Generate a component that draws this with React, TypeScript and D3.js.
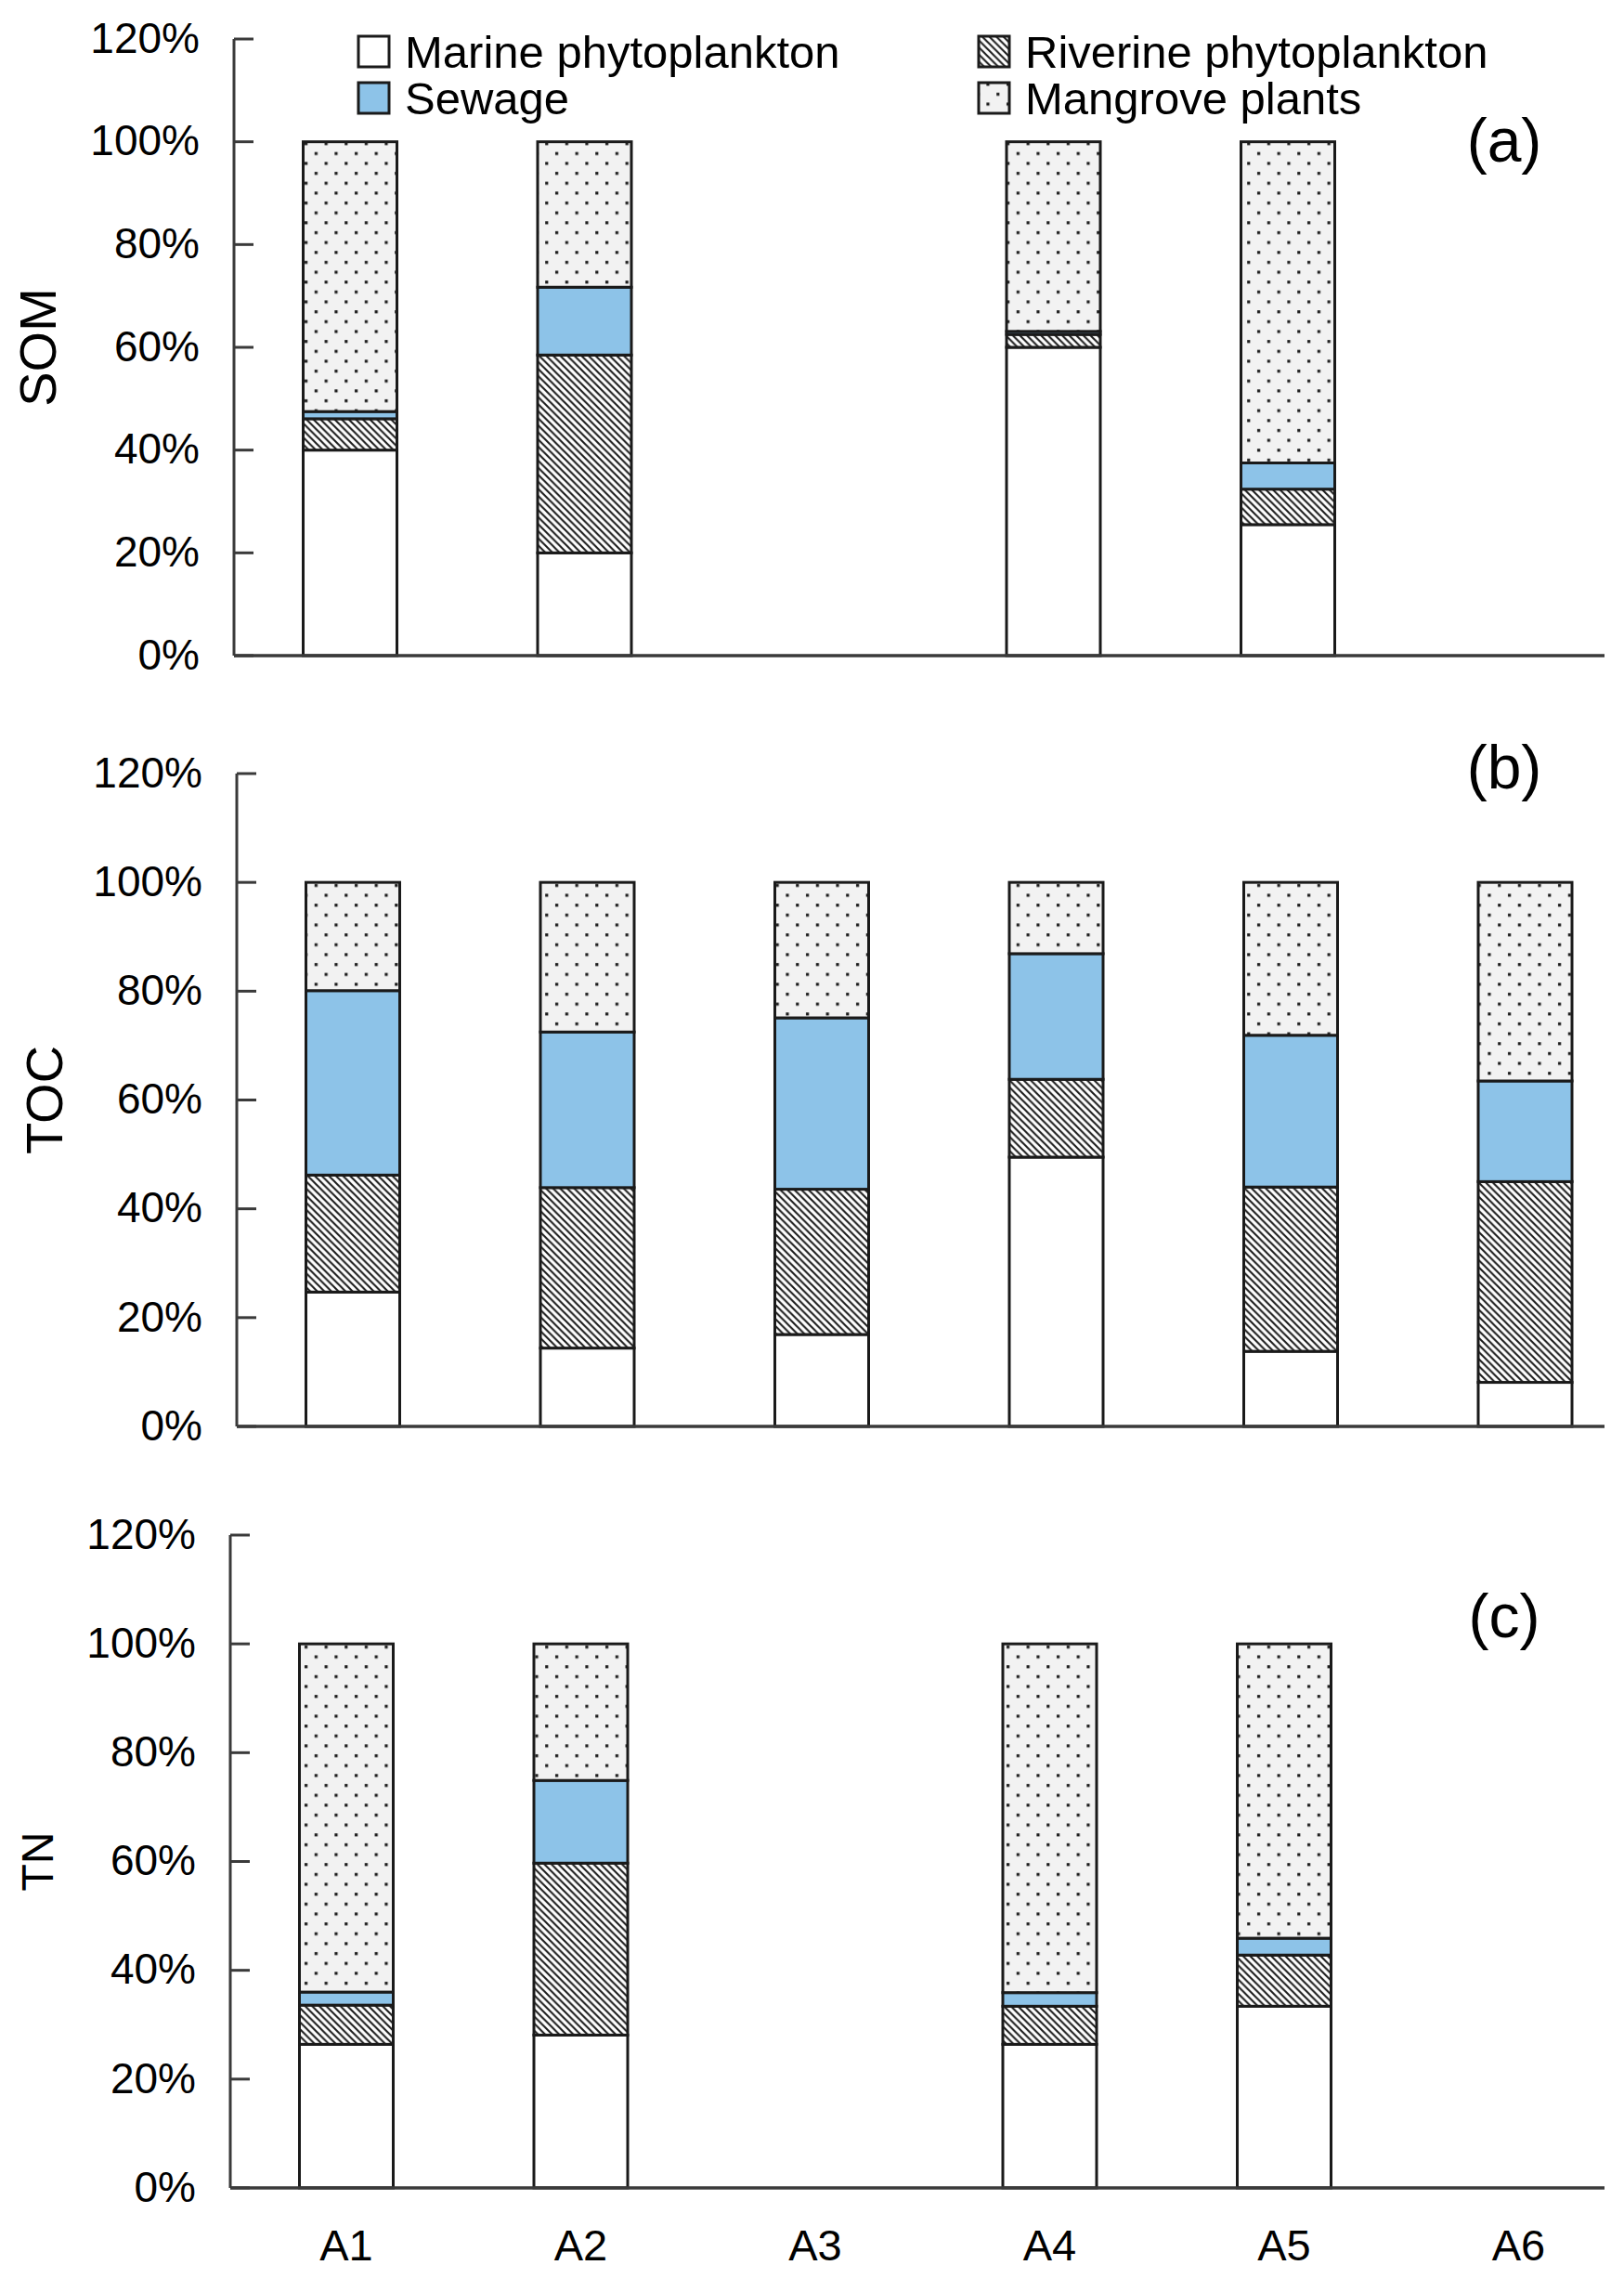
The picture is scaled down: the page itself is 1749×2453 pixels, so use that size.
import React from "react";
import * as d3 from "d3";

const categories = ["A1", "A2", "A3", "A4", "A5", "A6"];
const sources = ["Marine phytoplankton", "Riverine phytoplankton", "Sewage", "Mangrove plants"];
const yTicks = [0, 0.2, 0.4, 0.6, 0.8, 1.0, 1.2];

// SOM (%)
const somMarine = [40, 20, null, 60, 25.5, null];
const somRiverine = [6.1, 38.5, null, 2.5, 6.9, null];
const somSewage = [1.4, 13.2, null, 0.6, 5.1, null];
const somMangrove = [52.5, 28.3, null, 36.9, 62.5, null];

// TOC (%)
const tocMarine = [24.7, 14.4, 16.9, 49.5, 13.8, 8.1];
const tocRiverine = [21.5, 29.5, 26.7, 14.3, 30.2, 36.9];
const tocSewage = [33.9, 28.6, 31.5, 23.1, 27.9, 18.5];
const tocMangrove = [19.9, 27.5, 24.9, 13.1, 28.1, 36.5];

// TN (%)
const tnMarine = [26.4, 28.1, null, 26.4, 33.4, null];
const tnRiverine = [7.2, 31.6, null, 7.0, 9.4, null];
const tnSewage = [2.4, 15.2, null, 2.5, 3.1, null];
const tnMangrove = [64.0, 25.1, null, 64.1, 54.1, null];

const panelTitles = ["SOM", "TOC", "TN"];
const panelLetters = ["(a)", "(b)", "(c)"];

const W = 1749;
const H = 2453;
const FONT = "'Liberation Sans', Arial, Helvetica, sans-serif";
const AXIS = "#3a3a3a";
const EDGE = "#1a1a1a";
const BLUE = "#8dc3e8";

const fills = ["#ffffff", "url(#hatch)", BLUE, "url(#dots)"];

const layouts = [
  { axisX: 252, y0: 706, yTop: 42, titleX: 40, titleSize: 56, letterY: 174 },
  { axisX: 255, y0: 1536, yTop: 833, titleX: 47, titleSize: 56, letterY: 849 },
  { axisX: 248, y0: 2356, yTop: 1653, titleX: 40, titleSize: 48, letterY: 1763 },
];

const panelData = [
  [somMarine, somRiverine, somSewage, somMangrove],
  [tocMarine, tocRiverine, tocSewage, tocMangrove],
  [tnMarine, tnRiverine, tnSewage, tnMangrove],
];

function Panel({ idx, showX }: { idx: number; showX: boolean }) {
  const L = layouts[idx];
  const series = panelData[idx];
  const y = d3.scaleLinear().domain([0, 1.2]).range([L.y0, L.yTop]);
  const step = 252.5;
  const r0 = L.axisX + 125 - step / 2;
  const x = d3
    .scaleBand<string>()
    .domain(categories)
    .range([r0, r0 + step * categories.length])
    .paddingInner(0.6)
    .paddingOuter(0.3);

  const rows = categories.map((c, i) => {
    const o: any = { cat: c };
    sources.forEach((s, j) => {
      const v = series[j][i];
      o[s] = v == null ? 0 : v / 100;
    });
    return o;
  });
  const stacked = d3.stack<any>().keys(sources)(rows);
  const fmt = d3.format(".0%");
  const xEnd = 1728;

  return (
    <g>
      {stacked.map((layer, j) => (
        <g key={j}>
          {layer.map((seg, i) => {
            const h = y(seg[0]) - y(seg[1]);
            if (h <= 0) return null;
            return (
              <rect
                key={i}
                x={x(categories[i])}
                y={y(seg[1])}
                width={x.bandwidth()}
                height={h}
                fill={fills[j]}
                stroke={EDGE}
                strokeWidth={3}
              />
            );
          })}
        </g>
      ))}
      <line x1={L.axisX} x2={L.axisX} y1={y(1.2)} y2={y(0)} stroke={AXIS} strokeWidth={3} />
      <line x1={L.axisX} x2={xEnd} y1={y(0)} y2={y(0)} stroke={AXIS} strokeWidth={3.5} />
      {yTicks.map((t) => (
        <g key={t}>
          <line x1={L.axisX} x2={L.axisX + 21} y1={y(t)} y2={y(t)} stroke={AXIS} strokeWidth={3} />
          <text
            x={L.axisX - 37}
            y={y(t)}
            dy="0.32em"
            textAnchor="end"
            fontFamily={FONT}
            fontSize={46}
            fill="#000"
          >
            {fmt(t)}
          </text>
        </g>
      ))}
      <text
        transform={`translate(${L.titleX},${(L.y0 + L.yTop) / 2}) rotate(-90)`}
        textAnchor="middle"
        dy="0.36em"
        fontFamily={FONT}
        fontSize={L.titleSize}
        fill="#000"
      >
        {panelTitles[idx]}
      </text>
      <text x={1620} y={L.letterY} textAnchor="middle" fontFamily={FONT} fontSize={66} fill="#000">
        {panelLetters[idx]}
      </text>
      {showX &&
        categories.map((c) => (
          <text
            key={c}
            x={(x(c) as number) + x.bandwidth() / 2}
            y={2434}
            textAnchor="middle"
            fontFamily={FONT}
            fontSize={47}
            fill="#000"
          >
            {c}
          </text>
        ))}
    </g>
  );
}

function Legend() {
  const items = [
    { label: sources[0], fill: fills[0], x: 386, y: 39 },
    { label: sources[2], fill: fills[2], x: 386, y: 89 },
    { label: sources[1], fill: fills[1], x: 1054, y: 39 },
    { label: sources[3], fill: fills[3], x: 1054, y: 89 },
  ];
  return (
    <g>
      {items.map((it) => (
        <g key={it.label}>
          <rect x={it.x} y={it.y} width={33} height={33} fill={it.fill} stroke={EDGE} strokeWidth={3} />
          <text x={it.x + 50} y={it.y + 34} fontFamily={FONT} fontSize={49} fill="#000">
            {it.label}
          </text>
        </g>
      ))}
    </g>
  );
}

export default function App() {
  return (
    <div style={{ position: "absolute", left: 0, top: 0, width: W, height: H, background: "#fff" }}>
      <svg width={W} height={H} viewBox={`0 0 ${W} ${H}`} xmlns="http://www.w3.org/2000/svg">
        <defs>
          <pattern id="hatch" patternUnits="userSpaceOnUse" width={7.6} height={7.6}>
            <rect width={7.6} height={7.6} fill="#fff" />
            <path d="M-1,-1 L8.6,8.6 M-1,6.6 L1,8.6 M6.6,-1 L8.6,1" stroke="#1a1a1a" strokeWidth={2.1} />
          </pattern>
          <pattern id="dots" patternUnits="userSpaceOnUse" width={21.6} height={21.3}>
            <rect width={21.6} height={21.3} fill="#f2f2f2" />
            <rect x={4} y={4} width={3.2} height={3.2} fill="#1a1a1a" />
            <rect x={14.8} y={14.65} width={3.2} height={3.2} fill="#1a1a1a" />
          </pattern>
        </defs>
        <rect width={W} height={H} fill="#fff" />
        <Panel idx={0} showX={false} />
        <Panel idx={1} showX={false} />
        <Panel idx={2} showX={true} />
        <Legend />
      </svg>
    </div>
  );
}
